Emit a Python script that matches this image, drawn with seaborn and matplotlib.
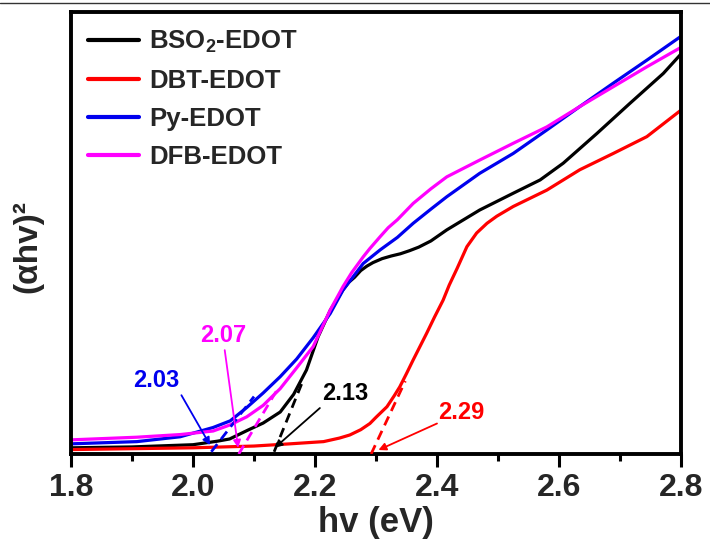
import matplotlib
matplotlib.use("Agg")
import matplotlib.pyplot as plt
from matplotlib.lines import Line2D
from matplotlib.ticker import MultipleLocator
import seaborn as sns
import pandas as pd

# ---------------- data ----------------
series_names = ["BSO$_\\mathbf{2}$-EDOT", "DBT-EDOT", "Py-EDOT", "DFB-EDOT"]
series_colors = ["#000000", "#ff0000", "#0000ee", "#ff00ff"]

bso2_x = [1.80, 1.90, 2.00, 2.02, 2.04, 2.06, 2.09, 2.115, 2.143, 2.165, 2.186,
          2.205, 2.225, 2.245, 2.255, 2.265, 2.275, 2.285, 2.295, 2.31, 2.325,
          2.34, 2.355, 2.37, 2.39, 2.416, 2.47, 2.525, 2.569, 2.607, 2.662,
          2.716, 2.771, 2.80]
bso2_y = [1.4, 1.6, 2.1, 2.5, 2.9, 3.4, 5.4, 7.0, 9.5, 13.5, 19.0,
          26.5, 32.5, 37.0, 38.8, 40.0, 41.5, 42.5, 43.3, 44.2, 44.8,
          45.3, 46.0, 46.8, 48.2, 50.7, 55.2, 59.0, 62.0, 65.8, 72.5,
          79.3, 86.1, 90.5]

dbt_x = [1.80, 1.90, 2.00, 2.10, 2.159, 2.214, 2.24, 2.257, 2.275, 2.29, 2.30,
         2.318, 2.33, 2.339, 2.35, 2.361, 2.372, 2.383, 2.396, 2.41, 2.42, 2.433,
         2.449, 2.465, 2.482, 2.498, 2.525, 2.58, 2.634, 2.689, 2.744, 2.80]
dbt_y = [1.0, 1.2, 1.4, 1.8, 2.3, 2.8, 3.6, 4.3, 5.5, 6.9, 8.3,
         10.7, 13.2, 15.2, 18.2, 21.3, 24.3, 27.3, 31.0, 34.8, 38.2, 42.0,
         46.9, 50.0, 52.2, 53.8, 56.0, 59.7, 64.3, 68.0, 71.8, 77.8]

py_x = [1.80, 1.908, 1.979, 2.033, 2.061, 2.088, 2.115, 2.143, 2.17, 2.197, 2.225,
        2.246, 2.279, 2.307, 2.335, 2.361, 2.39, 2.416, 2.47, 2.525, 2.58, 2.634,
        2.689, 2.744, 2.80]
py_y = [2.3, 2.8, 3.9, 6.0, 7.5, 10.5, 13.8, 17.5, 21.5, 26.3, 31.8,
        37.1, 43.1, 46.2, 49.0, 52.2, 55.4, 58.2, 63.5, 68.0, 73.3, 78.6,
        83.9, 89.1, 94.5]

dfb_x = [1.80, 1.908, 1.979, 2.033, 2.061, 2.088, 2.115, 2.143, 2.17, 2.197, 2.225,
         2.246, 2.26, 2.279, 2.29, 2.307, 2.32, 2.335, 2.361, 2.39, 2.416, 2.47,
         2.525, 2.58, 2.634, 2.689, 2.744, 2.80]
dfb_y = [3.2, 3.8, 4.4, 5.2, 6.6, 8.4, 11.0, 14.8, 19.5, 24.3, 32.6,
         37.9, 41.0, 44.6, 46.5, 49.2, 51.2, 53.0, 56.7, 60.0, 62.7, 66.5,
         70.3, 74.0, 78.6, 83.1, 87.6, 92.0]

# tangent (onset) lines: x pair, y pair
tan_bso2_x = [2.133, 2.180]
tan_bso2_y = [0.5, 16.5]
tan_dbt_x = [2.292, 2.348]
tan_dbt_y = [0.0, 16.5]
tan_py_x = [2.030, 2.100]
tan_py_y = [0.5, 13.0]
tan_dfb_x = [2.075, 2.140]
tan_dfb_y = [0.0, 15.0]

# onset labels: text, text pos, arrow tail, arrow head
onset_labels = ["2.03", "2.07", "2.13", "2.29"]
onset_colors = ["#0000ee", "#ff00ff", "#000000", "#ff0000"]
onset_text_x = [1.940, 2.050, 2.249, 2.440]
onset_text_y = [16.7, 26.9, 13.8, 9.3]
arrow_tail_x = [1.981, 2.052, 2.208, 2.400]
arrow_tail_y = [13.3, 23.5, 10.4, 6.9]
arrow_head_x = [2.028, 2.074, 2.134, 2.304]
arrow_head_y = [2.0, 1.4, 1.4, 0.9]

x_ticks = [1.8, 2.0, 2.2, 2.4, 2.6, 2.8]
x_tick_labels = ["1.8", "2.0", "2.2", "2.4", "2.6", "2.8"]
x_label = "hv (eV)"
y_label = "(αhv)²"

# ---------------- build long table ----------------
frames = []
for name, xs, ys in zip(series_names,
                        [bso2_x, dbt_x, py_x, dfb_x],
                        [bso2_y, dbt_y, py_y, dfb_y]):
    frames.append(pd.DataFrame({"hv": xs, "val": ys, "sample": name}))
df = pd.concat(frames, ignore_index=True)

# ---------------- style ----------------
sns.set_theme(style="white")
plt.rcParams["font.family"] = ["Liberation Sans", "DejaVu Sans"]
plt.rcParams["font.weight"] = "bold"
plt.rcParams["mathtext.fontset"] = "custom"
plt.rcParams["mathtext.rm"] = "Liberation Sans:bold"
plt.rcParams["mathtext.bf"] = "Liberation Sans:bold"
plt.rcParams["mathtext.it"] = "Liberation Sans:bold"
plt.rcParams["lines.solid_joinstyle"] = "round"

fig = plt.figure(figsize=(7.10, 5.45), dpi=100)
ax = fig.add_axes([71 / 710, 1 - 454 / 545, 610 / 710, 442 / 545])

palette = dict(zip(series_names, series_colors))
sns.lineplot(data=df, x="hv", y="val", hue="sample", hue_order=series_names,
             palette=palette, linewidth=2.3, ax=ax, sort=True, estimator=None)

# tangent lines
for tx, ty, c in zip([tan_bso2_x, tan_dbt_x, tan_py_x, tan_dfb_x],
                     [tan_bso2_y, tan_dbt_y, tan_py_y, tan_dfb_y],
                     series_colors):
    ax.plot(tx, ty, color=c, lw=2.0, linestyle=(0, (3.5, 2.2)), zorder=3)

# onset labels and arrows
for lab, c, tx, ty, ax_, ay_, hx, hy in zip(onset_labels, onset_colors,
                                            onset_text_x, onset_text_y,
                                            arrow_tail_x, arrow_tail_y,
                                            arrow_head_x, arrow_head_y):
    ax.text(tx, ty, lab, color=c, fontsize=17, fontweight="bold",
            ha="center", va="center")
    ax.annotate("", xy=(hx, hy), xytext=(ax_, ay_),
                arrowprops=dict(arrowstyle="-|>", color=c, lw=1.3,
                                mutation_scale=11, shrinkA=0, shrinkB=0))

ax.set_xlim(1.8, 2.8)
ax.set_ylim(0, 100)
ax.set_xticks(x_ticks)
ax.set_xticklabels(x_tick_labels)
ax.xaxis.set_minor_locator(MultipleLocator(0.1))
ax.tick_params(axis="x", which="major", direction="out", length=9, width=2.2,
               labelsize=23, pad=5, bottom=True, top=False, color="black")
ax.tick_params(axis="x", which="minor", direction="out", length=5, width=2.2,
               bottom=True, top=False, color="black")
ax.tick_params(axis="y", left=False, labelleft=False, right=False)
for lbl in ax.get_xticklabels():
    lbl.set_fontweight("bold")

for sp in ax.spines.values():
    sp.set_visible(True)
    sp.set_linewidth(2.8)
    sp.set_color("black")

ax.set_xlabel(x_label, fontsize=25, fontweight="bold", labelpad=2)
ax.set_ylabel(y_label, fontsize=24, fontweight="bold")
ax.yaxis.set_label_coords(-0.045, 0.47)

handles, labels = ax.get_legend_handles_labels()
for h in handles:
    h.set_linewidth(3.0)
leg = ax.legend(handles, labels, loc="upper left", frameon=False,
                handlelength=2.0, handletextpad=0.4,
                labelspacing=0.55, borderaxespad=0.35, borderpad=0.3,
                prop={"weight": "bold", "size": 18.5})

# thin line along the very top of the picture
fig.add_artist(Line2D([0, 1], [1 - 3 / 545, 1 - 3 / 545], transform=fig.transFigure,
                      color="#333333", lw=1.0))

fig.savefig("out.png", dpi=100)
